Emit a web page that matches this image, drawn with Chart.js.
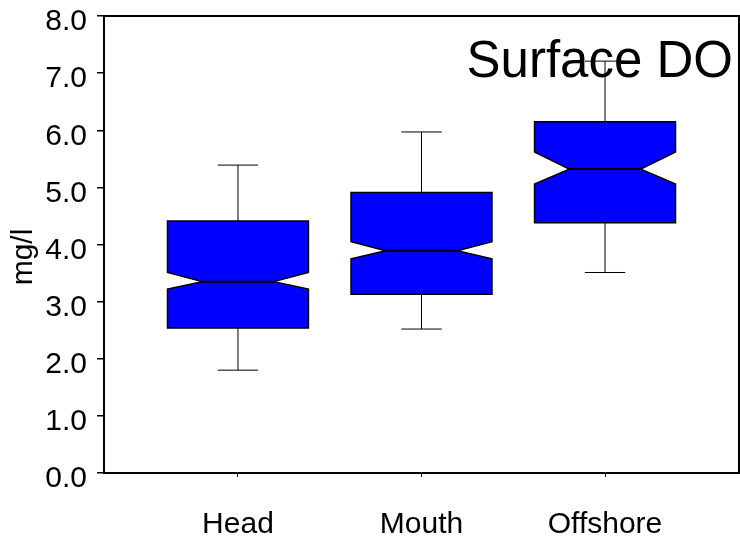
<!DOCTYPE html>
<html>
<head>
<meta charset="utf-8">
<script src="https://cdn.jsdelivr.net/npm/chart.js@4.4.1/dist/chart.umd.min.js"></script>
<style>
  html, body { margin: 0; padding: 0; background: #fff; }
  #wrap { width: 740px; height: 546px; }
</style>
</head>
<body>
<div id="wrap"><canvas id="myChart"></canvas></div>
<script>
// box plot stats (mg/l)
var categories = ['Head', 'Mouth', 'Offshore'];
var whiskerLow  = [1.80, 2.52, 3.51];
var q1          = [2.54, 3.13, 4.38];
var notchLow    = [3.22, 3.75, 5.06];
var median      = [3.35, 3.89, 5.32];
var notchHigh   = [3.51, 4.05, 5.62];
var q3          = [4.41, 4.91, 6.15];
var whiskerHigh = [5.39, 5.97, 7.21];
var yTicks = [0, 1, 2, 3, 4, 5, 6, 7, 8];

var FONT = '"Liberation Sans", Arial, sans-serif';

// notched boxes drawn through the chart's own x / y scales
var notchBoxPlugin = {
    id: 'notchBox',
    afterDatasetsDraw: function(chart) {
        var ctx = chart.ctx;
        var xs = chart.scales.x, ys = chart.scales.y;
        var halfW = 0.384, notchW = 0.195, capW = 0.11;
        var px = function(v) { return xs.getPixelForValue(v); };
        var py = function(v) { return ys.getPixelForValue(v); };
        for (var i = 0; i < categories.length; i++) {
            var c = i + 1;
            ctx.save();
            ctx.strokeStyle = '#000';
            ctx.lineWidth = 1;
            // whiskers
            ctx.beginPath();
            ctx.moveTo(px(c), py(q3[i]));
            ctx.lineTo(px(c), py(whiskerHigh[i]));
            ctx.moveTo(px(c - capW), py(whiskerHigh[i]));
            ctx.lineTo(px(c + capW), py(whiskerHigh[i]));
            ctx.moveTo(px(c), py(q1[i]));
            ctx.lineTo(px(c), py(whiskerLow[i]));
            ctx.moveTo(px(c - capW), py(whiskerLow[i]));
            ctx.lineTo(px(c + capW), py(whiskerLow[i]));
            ctx.stroke();
            // notched box
            ctx.beginPath();
            ctx.moveTo(px(c - halfW), py(q1[i]));
            ctx.lineTo(px(c + halfW), py(q1[i]));
            ctx.lineTo(px(c + halfW), py(notchLow[i]));
            ctx.lineTo(px(c + notchW), py(median[i]));
            ctx.lineTo(px(c + halfW), py(notchHigh[i]));
            ctx.lineTo(px(c + halfW), py(q3[i]));
            ctx.lineTo(px(c - halfW), py(q3[i]));
            ctx.lineTo(px(c - halfW), py(notchHigh[i]));
            ctx.lineTo(px(c - notchW), py(median[i]));
            ctx.lineTo(px(c - halfW), py(notchLow[i]));
            ctx.closePath();
            ctx.fillStyle = '#0000ff';
            ctx.fill();
            ctx.lineWidth = 1.5;
            ctx.stroke();
            // median line
            ctx.beginPath();
            ctx.lineWidth = 2;
            ctx.moveTo(px(c - notchW), py(median[i]));
            ctx.lineTo(px(c + notchW), py(median[i]));
            ctx.stroke();
            ctx.restore();
        }
        // frame top and right
        var a = chart.chartArea;
        ctx.save();
        ctx.strokeStyle = '#000';
        ctx.lineWidth = 2;
        ctx.beginPath();
        ctx.moveTo(a.left, a.top);
        ctx.lineTo(a.right, a.top);
        ctx.lineTo(a.right, a.bottom);
        ctx.stroke();
        // panel label
        ctx.fillStyle = '#000';
        ctx.font = '51px ' + FONT;
        ctx.textAlign = 'right';
        ctx.textBaseline = 'alphabetic';
        ctx.fillText('Surface DO', a.right - 6, a.top + 61);
        ctx.restore();
    }
};

var chart = new Chart('myChart', {
    type: 'scatter',
    data: {
        datasets: [{
            label: 'median',
            data: median.map(function(m, i) { return {x: i + 1, y: m}; }),
            pointRadius: 0,
            showLine: false
        }]
    },
    options: {
        responsive: true,
        maintainAspectRatio: false,
        animation: false,
        layout: { padding: { top: 16, right: 1, left: 0, bottom: 0 } },
        plugins: {
            legend: { display: false },
            tooltip: { enabled: false }
        },
        scales: {
            x: {
                type: 'linear',
                min: 0.27,
                max: 3.73,
                afterBuildTicks: function(scale) {
                    scale.ticks = categories.map(function(c, i) { return {value: i + 1}; });
                },
                afterFit: function(scale) {
                    scale.height = 73;
                    scale.paddingLeft = 0;
                    scale.paddingRight = 0;
                },
                grid: { drawOnChartArea: false, drawTicks: true, tickLength: 4, color: '#000', lineWidth: 1 },
                border: { display: true, color: '#000', width: 2 },
                ticks: {
                    color: '#000',
                    font: { family: FONT, size: 30 },
                    padding: 30,
                    maxRotation: 0,
                    autoSkip: false,
                    callback: function(v) { return categories[v - 1]; }
                }
            },
            y: {
                min: 0,
                max: 8,
                afterBuildTicks: function(scale) {
                    scale.ticks = yTicks.map(function(v) { return {value: v}; });
                },
                afterFit: function(scale) {
                    scale.width = 104;
                    scale.paddingTop = 0;
                    scale.paddingBottom = 0;
                },
                grid: { drawOnChartArea: false, drawTicks: true, tickLength: 7, color: '#000', lineWidth: 1.5 },
                border: { display: true, color: '#000', width: 2 },
                title: {
                    display: true,
                    // trailing spaces push the rotated label a little below centre, as in the original
                    text: 'mg/l   ',
                    color: '#000',
                    font: { family: FONT, size: 30 },
                    padding: { top: 6, bottom: 0 }
                },
                ticks: {
                    color: '#000',
                    font: { family: FONT, size: 30 },
                    padding: 10,
                    labelOffset: 6,
                    autoSkip: false,
                    callback: function(v) { return v.toFixed(1); }
                }
            }
        }
    },
    plugins: [notchBoxPlugin]
});
</script>
</body>
</html>
